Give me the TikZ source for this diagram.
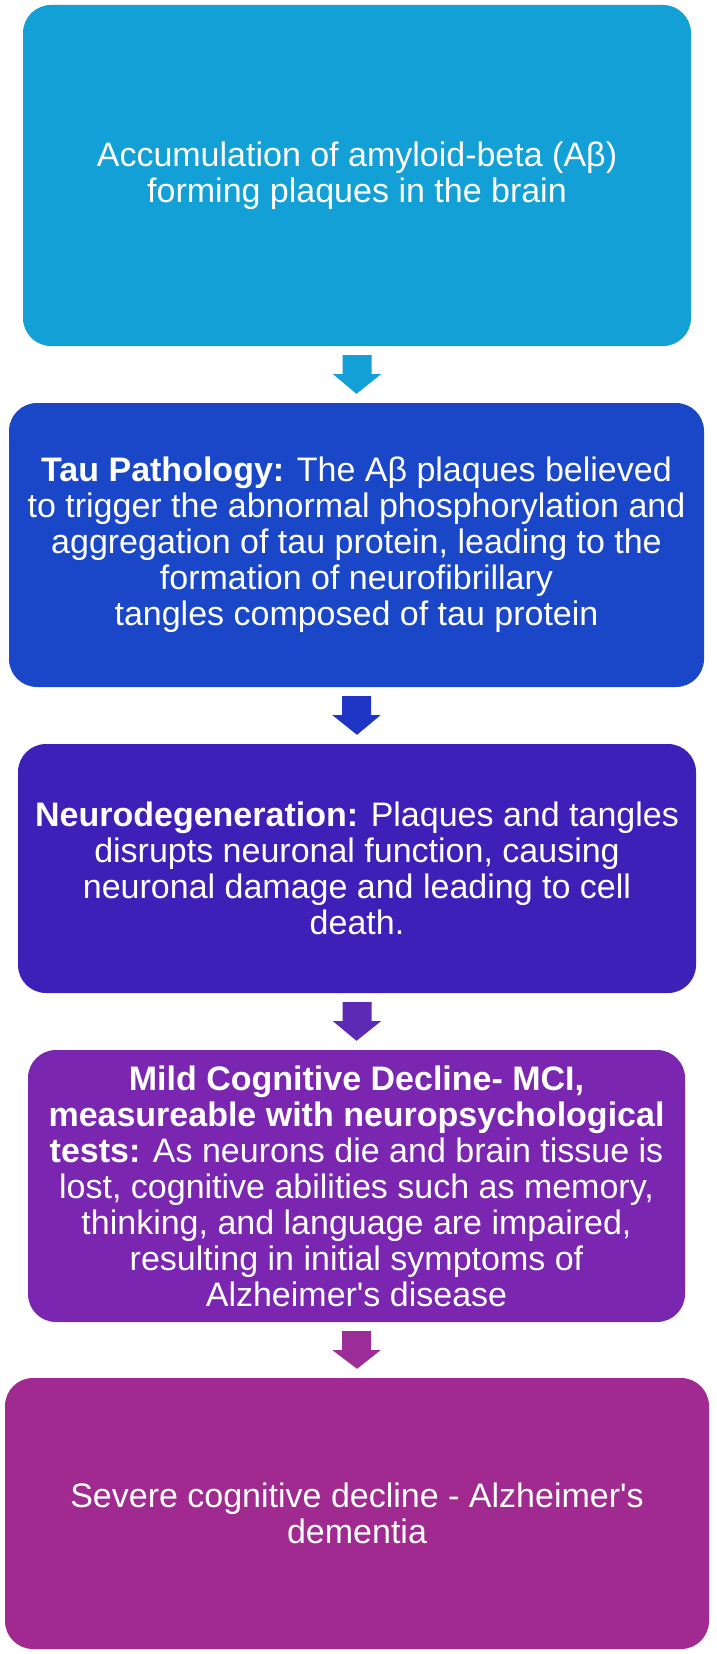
\documentclass[tikz,border=0pt]{standalone}
\usepackage{fontspec}
\setmainfont{Liberation Sans}[Ligatures=TeXOff]
\usetikzlibrary{calc}
\definecolor{c1}{HTML}{12A0D7}
\definecolor{c2}{HTML}{1A47C8}
\definecolor{c3}{HTML}{3C20B8}
\definecolor{c4}{HTML}{7A26B0}
\definecolor{c5}{HTML}{A02A90}
\definecolor{a2}{HTML}{1E35C5}
\definecolor{a3}{HTML}{5C2AB5}
\definecolor{a4}{HTML}{9C2C98}
\tikzset{
  stagebox/.style={rectangle, rounded corners=28pt, inner sep=0pt, text=white, align=center,
     font=\fontsize{34}{36}\selectfont},
}
\newcommand{\blockarrow}[3]{%
  \fill[#3] ($(#1.south)+(-14.5,9)$) -- ($(#1.south)+(14.5,9)$) -- ($(#1.south)+(14.5,28)$)
    -- ($(#1.south)+(24,28)$) -- ($(#2.north)+(0,-9)$) -- ($(#1.south)+(-24,28)$)
    -- ($(#1.south)+(-14.5,28)$) -- cycle;}
\begin{document}
\begin{tikzpicture}[x=1pt,y=-1pt]
\useasboundingbox (0,0) rectangle (717,1654);
\fill[white] (0,0) rectangle (717,1654);
\node[stagebox, fill=c1, minimum width=668pt, minimum height=341pt] (b1) at (357,175.5)
  {Accumulation of amyloid-beta (Aβ)\\forming plaques in the brain};
\node[stagebox, fill=c2, minimum width=695pt, minimum height=284pt] (b2) at (356.5,545)
  {\textbf{Tau Pathology:} The Aβ plaques believed\\to trigger the abnormal phosphorylation and\\aggregation of tau protein, leading to the\\formation of neurofibrillary\\tangles composed of tau protein};
\node[stagebox, fill=c3, minimum width=678pt, minimum height=249pt] (b3) at (357,868.5)
  {\textbf{Neurodegeneration:} Plaques and tangles\\disrupts neuronal function, causing\\neuronal damage and leading to cell\\death.};
\node[stagebox, fill=c4, minimum width=657pt, minimum height=272pt] (b4) at (356.5,1186)
  {\textbf{Mild Cognitive Decline- MCI,}\\\textbf{measureable with neuropsychological}\\\textbf{tests:} As neurons die and brain tissue is\\lost, cognitive abilities such as memory,\\thinking, and language are impaired,\\resulting in initial symptoms of\\Alzheimer's disease};
\node[stagebox, fill=c5, minimum width=704pt, minimum height=271pt] (b5) at (357,1513.5)
  {Severe cognitive decline - Alzheimer's\\dementia};
\blockarrow{b1}{b2}{c1}
\blockarrow{b2}{b3}{a2}
\blockarrow{b3}{b4}{a3}
\blockarrow{b4}{b5}{a4}
\end{tikzpicture}
\end{document}
